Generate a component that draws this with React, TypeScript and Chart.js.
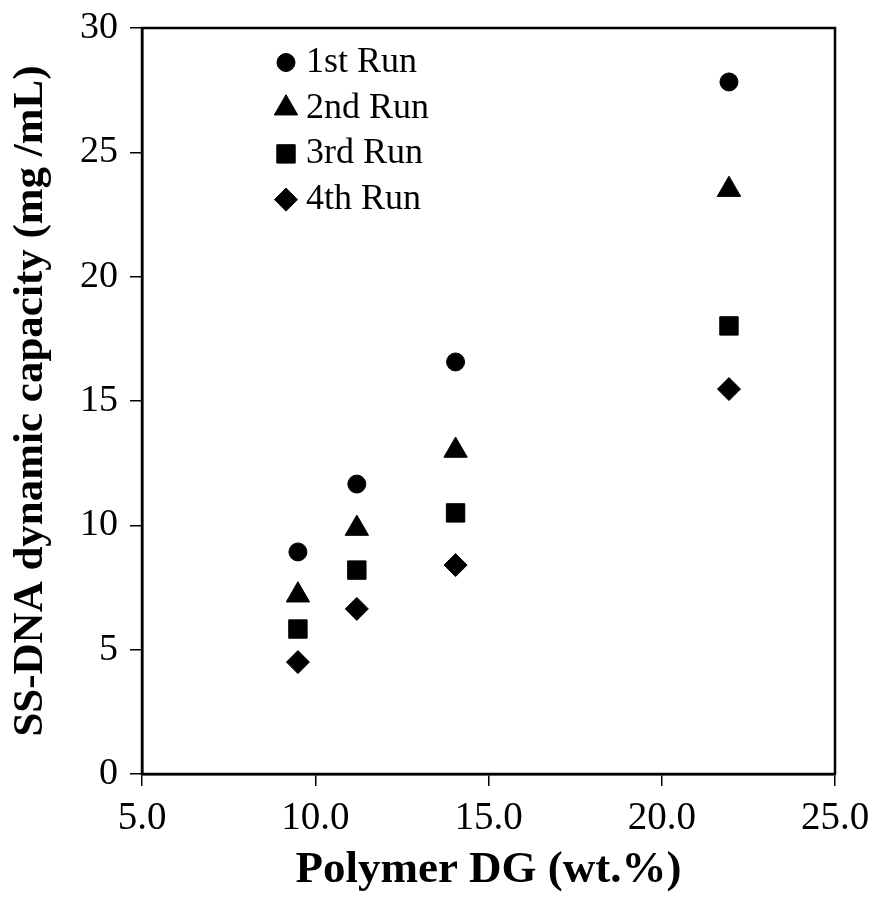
import React, { useEffect, useRef } from "react";
import { Chart, registerables } from "chart.js";
import { drawPoint } from "chart.js/helpers";

Chart.register(...registerables);

const xValues = [9.5, 11.2, 14.05, 21.94];
const run1 = [8.93, 11.66, 16.57, 27.83];
const run2 = [7.19, 9.87, 13.01, 23.5];
const run3 = [5.83, 8.2, 10.5, 18.02];
const run4 = [4.5, 6.64, 8.4, 15.48];
const seriesLabels = ["1st Run", "2nd Run", "3rd Run", "4th Run"];
const xTitle = "Polymer DG (wt.%)";
const yTitle = "SS-DNA dynamic capacity (mg /mL)";

const FONT = "'Liberation Serif', 'Times New Roman', serif";

const styles = [
  { pointStyle: "circle", radius: 9 },
  { pointStyle: "triangle", radius: 13.5 },
  { pointStyle: "rect", radius: 13 },
  { pointStyle: "rectRot", radius: 11.5 },
];

const boxPlugin = {
  id: "boxPlugin",
  afterDraw(chart: any) {
    const { ctx, chartArea } = chart;
    ctx.save();
    ctx.strokeStyle = "#000";
    ctx.lineWidth = 2.5;
    ctx.strokeRect(chartArea.left, chartArea.top, chartArea.right - chartArea.left, chartArea.bottom - chartArea.top);
    // legend inside plot
    const lx = chartArea.left + 144;
    const ly = chartArea.top + 34.5;
    const gap = 45.7;
    ctx.font = `36px ${FONT}`;
    ctx.textBaseline = "middle";
    ctx.textAlign = "left";
    chart.data.datasets.forEach((ds: any, i: number) => {
      const y = ly + i * gap;
      ctx.fillStyle = "#000";
      ctx.strokeStyle = "#000";
      ctx.lineWidth = 1;
      drawPoint(ctx, { pointStyle: ds.pointStyle, radius: ds.pointRadius, rotation: 0, borderWidth: 1 }, lx, y);
      ctx.fillStyle = "#000";
      ctx.fillText(ds.label, lx + 20, y);
    });
    ctx.restore();
  },
};

export default function App() {
  const ref = useRef<HTMLCanvasElement>(null);
  useEffect(() => {
    if (!ref.current) return;
    const runs = [run1, run2, run3, run4];
    const chart = new Chart(ref.current, {
      type: "scatter",
      data: {
        datasets: runs.map((r, i) => ({
          label: seriesLabels[i],
          data: r.map((v, j) => ({ x: xValues[j], y: v })),
          pointStyle: styles[i].pointStyle as any,
          pointRadius: styles[i].radius,
          pointHoverRadius: styles[i].radius,
          backgroundColor: "#000",
          borderColor: "#000",
          borderWidth: 1,
        })),
      },
      options: {
        responsive: false,
        animation: false,
        layout: { padding: { left: 0, top: 28, right: 38, bottom: 0 } },
        plugins: {
          legend: { display: false },
          tooltip: { enabled: false },
        },
        scales: {
          x: {
            type: "linear",
            min: 5,
            max: 25,
            afterFit(scale: any) {
              scale.height = 125;
              scale.paddingLeft = 0;
              scale.paddingRight = 0;
            },
            ticks: {
              stepSize: 5,
              color: "#000",
              padding: 9,
              font: { family: FONT, size: 39 },
              callback: (v: any) => Number(v).toFixed(1),
            },
            grid: { drawOnChartArea: false, drawTicks: true, tickLength: 12, color: "#000", lineWidth: 1.5 },
            border: { display: true, color: "#000", width: 2.5 },
            title: {
              display: true,
              text: xTitle,
              color: "#000",
              font: { family: FONT, size: 45, weight: "bold", lineHeight: 1 },
              padding: { top: 0, bottom: 6 },
            },
          },
          y: {
            type: "linear",
            min: 0,
            max: 30,
            afterFit(scale: any) {
              scale.width = 142;
              scale.paddingTop = 0;
              scale.paddingBottom = 0;
            },
            ticks: {
              stepSize: 5,
              color: "#000",
              padding: 12,
              font: { family: FONT, size: 38 },
            },
            grid: { drawOnChartArea: false, drawTicks: true, tickLength: 12, color: "#000", lineWidth: 1.5 },
            border: { display: true, color: "#000", width: 2.5 },
            title: {
              display: true,
              text: yTitle,
              color: "#000",
              font: { family: FONT, size: 43, weight: "bold", lineHeight: 1 },
              padding: { top: 9, bottom: 0 },
            },
          },
        },
      },
      plugins: [boxPlugin],
    });
    return () => chart.destroy();
  }, []);
  return (
    <div style={{ position: "absolute", left: 0, top: 0, width: 873, height: 899, background: "#fff" }}>
      <canvas ref={ref} width={873} height={899} style={{ display: "block" }} />
    </div>
  );
}
